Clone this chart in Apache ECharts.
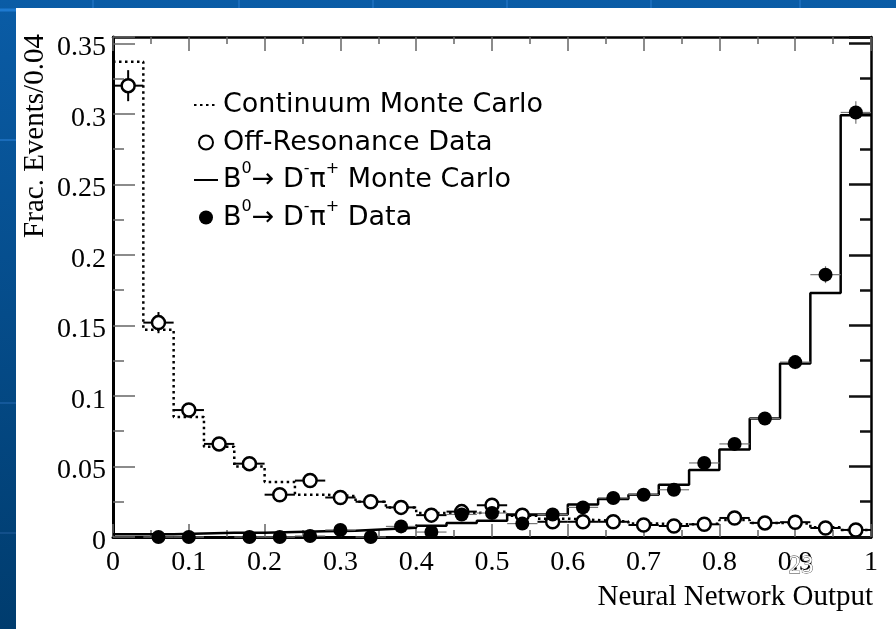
<!DOCTYPE html>
<html>
<head>
<meta charset="utf-8">
<script src="https://cdn.jsdelivr.net/npm/echarts@6/dist/echarts.min.js"></script>
<style>
html, body { margin: 0; padding: 0; }
#chart { width: 896px; height: 629px; }
</style>
</head>
<body>
<div id="chart"></div>
<script>
// bins of width 0.04 on the network output
const binWidth = 0.04
const binCenters = [0.02, 0.06, 0.10, 0.14, 0.18, 0.22, 0.26, 0.30, 0.34, 0.38, 0.42, 0.46, 0.50,
  0.54, 0.58, 0.62, 0.66, 0.70, 0.74, 0.78, 0.82, 0.86, 0.90, 0.94, 0.98]

const continuumMC = [0.337, 0.147, 0.085, 0.064, 0.050, 0.039, 0.030, 0.029, 0.025, 0.021, 0.017, 0.017, 0.018,
  0.015, 0.013, 0.012, 0.011, 0.0095, 0.009, 0.0095, 0.012, 0.010, 0.0095, 0.007, 0.005]
const offResData = [0.320, 0.152, 0.090, 0.066, 0.052, 0.030, 0.040, 0.028, 0.025, 0.021, 0.0155, 0.018, 0.0225,
  0.0155, 0.0108, 0.0108, 0.0108, 0.0085, 0.0078, 0.009, 0.0135, 0.010, 0.0105, 0.0064, 0.005]
const offResErr = [0.011, 0.0075, 0.005, 0.004, 0.004, 0.003, 0.003, 0.003, 0.003, 0.003, 0.0025, 0.0025, 0.0025,
  0.002, 0.002, 0.002, 0.002, 0.002, 0.002, 0.002, 0.002, 0.002, 0.002, 0.0015, 0.0015]

const signalMC = [0.002, 0.002, 0.0025, 0.003, 0.003, 0.0035, 0.004, 0.0045, 0.0055, 0.0065, 0.008, 0.010, 0.0115,
  0.016, 0.016, 0.023, 0.027, 0.030, 0.037, 0.0475, 0.062, 0.084, 0.123, 0.173, 0.299]
const signalData = [null, 0.0, 0.0, null, 0.0, 0.0, 0.0007, 0.005, 0.0, 0.0075, 0.0035, 0.016, 0.017,
  0.0095, 0.016, 0.021, 0.0277, 0.030, 0.0335, 0.0525, 0.066, 0.084, 0.124, 0.186, 0.301]
const signalErr = [0, 0.001, 0.001, 0, 0.001, 0.001, 0.001, 0.0015, 0.001, 0.0015, 0.0015, 0.002, 0.002,
  0.002, 0.002, 0.002, 0.0025, 0.0025, 0.003, 0.003, 0.0035, 0.004, 0.005, 0.006, 0.008]

const xTicks = { min: 0, max: 1, interval: 0.1 }
const yTicks = { min: 0, max: 0.3545, interval: 0.05 }

const legendNames = ['Continuum Monte Carlo', 'Off-Resonance Data', 'B0 → D-π+ Monte Carlo', 'B0 → D-π+ Data']

function stepData (values) {
  const pts = values.map((v, i) => [binCenters[i] - binWidth / 2, v])
  pts.push([1, values[values.length - 1]])
  return pts
}

function pointData (values, errors) {
  const out = []
  values.forEach((v, i) => {
    if (v !== null) out.push([binCenters[i], v, errors[i]])
  })
  return out
}

function errorBarSeries (values, errors, color, width) {
  return {
    type: 'custom',
    data: pointData(values, errors),
    encode: { x: 0, y: 1 },
    z: 3,
    clip: false,
    renderItem: function (params, api) {
      const x = api.value(0)
      const y = api.value(1)
      const e = api.value(2)
      const l = api.coord([x - binWidth / 2, y])
      const r = api.coord([x + binWidth / 2, y])
      const lo = api.coord([x, Math.max(0, y - e)])
      const hi = api.coord([x, y + e])
      const style = { stroke: color, lineWidth: width }
      return {
        type: 'group',
        children: [
          { type: 'line', shape: { x1: l[0], y1: l[1], x2: r[0], y2: r[1] }, style: style },
          { type: 'line', shape: { x1: lo[0], y1: lo[1], x2: hi[0], y2: hi[1] }, style: style }
        ]
      }
    }
  }
}

const serif = 'Liberation Serif'

function legendLabel (name) {
  if (name.indexOf('B0') === 0) {
    const rest = name.replace('B0 → D-π+', '')
    return '{t|B}{s|0}{t|→ D}{s|-}{t|π}{s|+}{t|' + rest + '}'
  }
  // empty superscript keeps every row the same height
  return '{t|' + name + '}{s| }'
}

const chart = echarts.init(document.getElementById('chart'))

const option = {
  animation: false,
  backgroundColor: new echarts.graphic.LinearGradient(0, 0, 0, 1, [
    { offset: 0, color: '#0a5ca6' },
    { offset: 1, color: '#003c6e' }
  ]),
  graphic: [
    { type: 'rect', z: -100, silent: true, shape: { x: 16, y: 8, width: 880, height: 621 }, style: { fill: '#ffffff' } },
    { type: 'line', z: -100, silent: true, shape: { x1: 0, y1: 10, x2: 16, y2: 10 }, style: { stroke: '#1e7ad0', lineWidth: 3 } },
    { type: 'line', z: -100, silent: true, shape: { x1: 93, y1: 0, x2: 93, y2: 8 }, style: { stroke: '#1a6cba', lineWidth: 2 } },
    { type: 'line', z: -100, silent: true, shape: { x1: 239, y1: 0, x2: 239, y2: 8 }, style: { stroke: '#1a6cba', lineWidth: 2 } },
    { type: 'line', z: -100, silent: true, shape: { x1: 373, y1: 0, x2: 373, y2: 8 }, style: { stroke: '#1a6cba', lineWidth: 2 } },
    { type: 'line', z: -100, silent: true, shape: { x1: 507, y1: 0, x2: 507, y2: 8 }, style: { stroke: '#1a6cba', lineWidth: 2 } },
    { type: 'line', z: -100, silent: true, shape: { x1: 651, y1: 0, x2: 651, y2: 8 }, style: { stroke: '#1a6cba', lineWidth: 2 } },
    { type: 'line', z: -100, silent: true, shape: { x1: 800, y1: 0, x2: 800, y2: 8 }, style: { stroke: '#1a6cba', lineWidth: 2 } },
    { type: 'line', z: -100, silent: true, shape: { x1: 0, y1: 140, x2: 16, y2: 140 }, style: { stroke: '#1a6cba', lineWidth: 2 } },
    { type: 'line', z: -100, silent: true, shape: { x1: 0, y1: 403, x2: 16, y2: 403 }, style: { stroke: '#14589a', lineWidth: 2 } },
    { type: 'line', z: -100, silent: true, shape: { x1: 0, y1: 533, x2: 16, y2: 533 }, style: { stroke: '#124f8a', lineWidth: 2 } },
    {
      type: 'text', x: 35, y: 136, rotation: Math.PI / 2,
      style: { text: 'Frac. Events/0.04', font: '29px "' + serif + '"', fill: '#000', textAlign: 'center', textVerticalAlign: 'middle', align: 'center', verticalAlign: 'middle' }
    },
    {
      type: 'text', x: 873, y: 597,
      style: { text: 'Neural Network Output', font: '29px "' + serif + '"', fill: '#000', textAlign: 'right', textVerticalAlign: 'middle', align: 'right', verticalAlign: 'middle' }
    },
    {
      // slide number sitting on top of the 0.9 label
      type: 'text', x: 801, y: 566, z: 100,
      style: { text: '23', font: '25px "' + serif + '"', fill: '#ffffff', stroke: '#333', lineWidth: 0.8, textAlign: 'center', textVerticalAlign: 'middle', align: 'center', verticalAlign: 'middle' }
    }
  ],
  grid: { left: 113, right: 25, top: 37, bottom: 92 },
  legend: {
    data: legendNames.map(n => ({ name: n, itemStyle: { opacity: 0 } })),
    orient: 'vertical',
    left: 188,
    top: 81,
    itemWidth: 24,
    itemHeight: 14,
    itemGap: 5,
    selectedMode: false,
    formatter: legendLabel,
    textStyle: {
      color: '#000',
      rich: {
        t: { fontFamily: 'DejaVu Sans', fontSize: 27, lineHeight: 38, color: '#000' },
        s: { fontFamily: 'DejaVu Sans', fontSize: 16, lineHeight: 16, verticalAlign: 'top', color: '#000' }
      }
    }
  },
  xAxis: [
    {
      type: 'value', position: 'bottom', min: xTicks.min, max: xTicks.max, interval: xTicks.interval,
      axisLine: { show: true, onZero: false, lineStyle: { color: '#000', width: 3 } },
      axisTick: { show: true, inside: true, length: 13, lineStyle: { color: '#666', width: 1.5 } },
      minorTick: { show: true, splitNumber: 2, length: 7, lineStyle: { color: '#666', width: 1.5 } },
      axisLabel: { fontFamily: serif, fontSize: 28, color: '#000', margin: 12 },
      splitLine: { show: false }
    },
    {
      type: 'value', position: 'top', min: xTicks.min, max: xTicks.max, interval: xTicks.interval,
      axisLine: { show: true, onZero: false, lineStyle: { color: '#000', width: 2.5 } },
      axisTick: { show: true, inside: true, length: 14, lineStyle: { color: '#666', width: 1.5 } },
      minorTick: { show: true, splitNumber: 2, length: 7, lineStyle: { color: '#666', width: 1.5 } },
      axisLabel: { show: false },
      splitLine: { show: false }
    }
  ],
  yAxis: [
    {
      type: 'value', position: 'left', min: yTicks.min, max: yTicks.max, interval: yTicks.interval,
      axisLine: { show: true, onZero: false, lineStyle: { color: '#000', width: 3 } },
      axisTick: { show: true, inside: true, length: 22, lineStyle: { color: '#666', width: 1.5 } },
      minorTick: { show: true, splitNumber: 2, length: 11, lineStyle: { color: '#666', width: 1.5 } },
      axisLabel: { fontFamily: serif, fontSize: 28, color: '#000', margin: 7, showMaxLabel: false, verticalAlign: 'top', lineHeight: 9 },
      splitLine: { show: false }
    },
    {
      type: 'value', position: 'right', min: yTicks.min, max: yTicks.max, interval: yTicks.interval,
      axisLine: { show: true, onZero: false, lineStyle: { color: '#000', width: 2.5 } },
      axisTick: { show: true, inside: true, length: 22, lineStyle: { color: '#111', width: 2.5 } },
      minorTick: { show: true, splitNumber: 2, length: 11, lineStyle: { color: '#111', width: 2.5 } },
      axisLabel: { show: false },
      splitLine: { show: false }
    }
  ],
  series: [
    {
      name: legendNames[0],
      type: 'line',
      step: 'end',
      symbol: 'none',
      z: 2,
      data: stepData(continuumMC),
      lineStyle: { color: '#000', width: 2.5, type: [2.5, 3.5] },
      itemStyle: { color: '#000' }
    },
    {
      name: legendNames[2],
      type: 'line',
      step: 'end',
      symbol: 'none',
      z: 2,
      data: stepData(signalMC),
      lineStyle: { color: '#000', width: 2.5 },
      itemStyle: { color: '#000' }
    },
    errorBarSeries(offResData, offResErr, '#000', 2),
    errorBarSeries(signalData, signalErr, '#777', 1.2),
    {
      name: legendNames[1],
      type: 'scatter',
      symbol: 'circle',
      symbolSize: 13,
      z: 5,
      clip: false,
      data: pointData(offResData, offResErr),
      itemStyle: { color: '#fff', borderColor: '#000', borderWidth: 2.5, opacity: 1 }
    },
    {
      name: legendNames[3],
      type: 'scatter',
      symbol: 'circle',
      symbolSize: 14,
      z: 6,
      clip: false,
      data: pointData(signalData, signalErr),
      itemStyle: { color: '#000', opacity: 1 }
    }
  ]
}

// scatter entries keep their visible markers in the legend
option.legend.data[1].itemStyle = { opacity: 1 }
option.legend.data[3].itemStyle = { opacity: 1 }

chart.setOption(option)
</script>
</body>
</html>
